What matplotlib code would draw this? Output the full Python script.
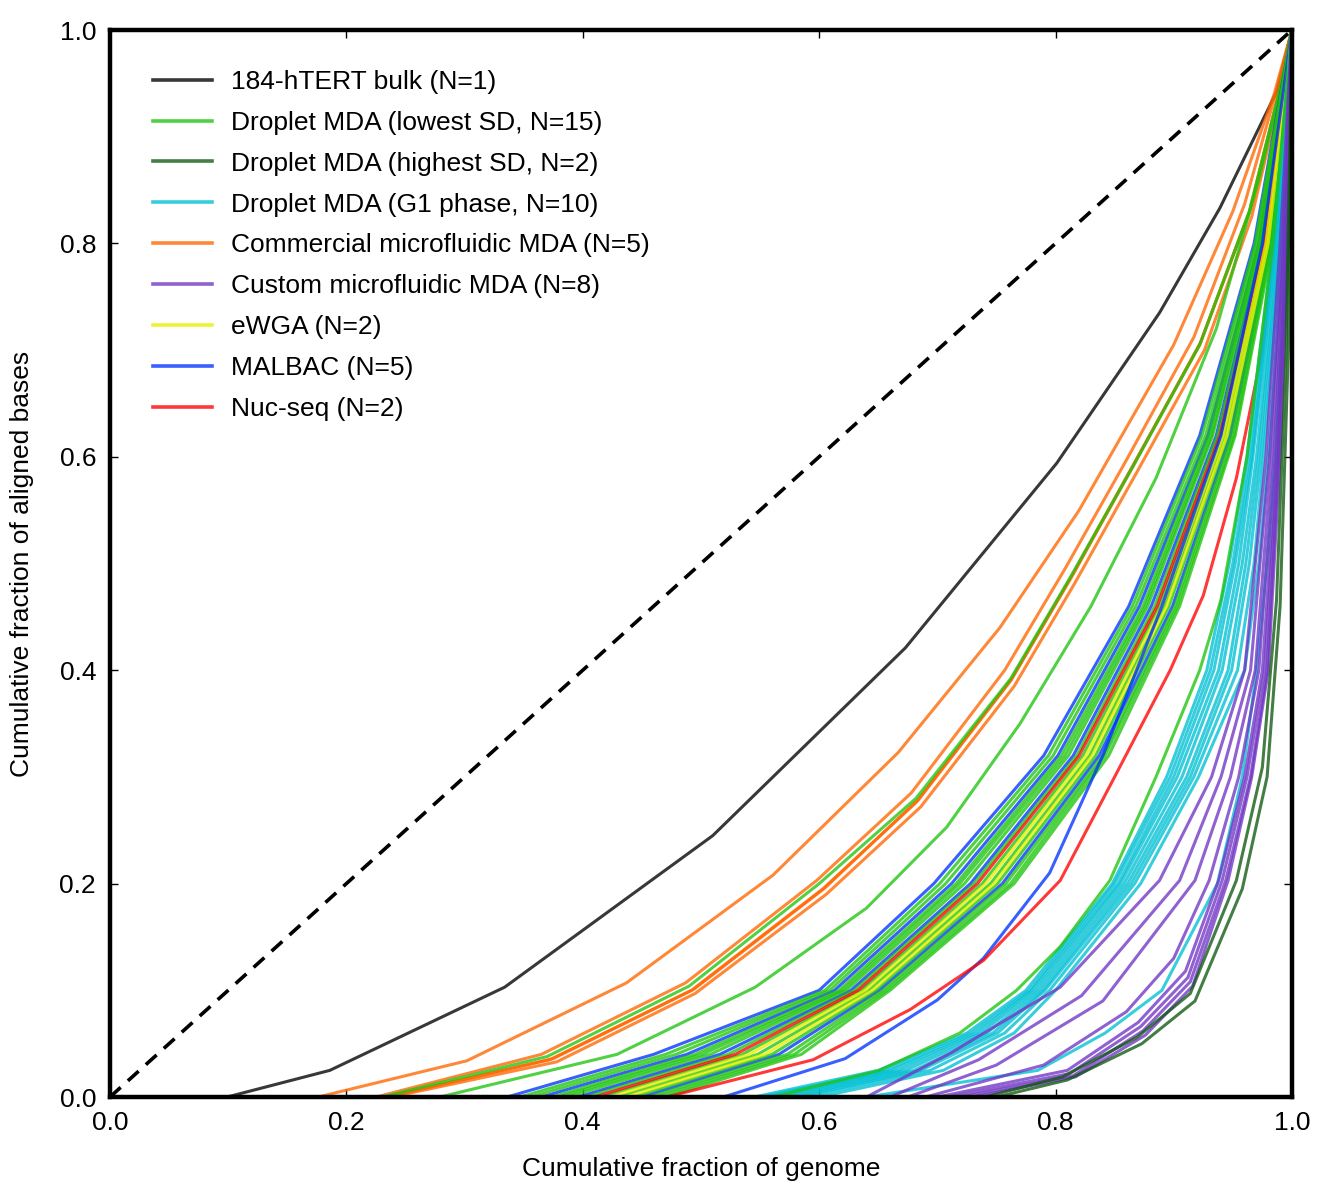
import matplotlib
matplotlib.use('Agg')
from matplotlib import pyplot as plt

plt.rcParams['font.family'] = ['Liberation Sans', 'DejaVu Sans']

# Lorenz curves: (cumulative fraction of genome, cumulative fraction of aligned bases)
bulk = [(0.099, 0.0), (0.186, 0.025), (0.334, 0.103), (0.51, 0.245), (0.673, 0.421),
        (0.801, 0.594), (0.888, 0.735), (0.939, 0.833), (0.987, 0.942), (1.0, 1.0)]

commercial = [
    [(0.176, 0.0), (0.302, 0.034), (0.437, 0.107), (0.561, 0.208), (0.667, 0.323),
     (0.753, 0.44), (0.82, 0.55), (0.9, 0.705), (0.95, 0.83), (0.985, 0.94), (1.0, 1.0)],
    [(0.225, 0.0), (0.365, 0.04), (0.487, 0.107), (0.598, 0.203), (0.678, 0.285), (0.757, 0.4),
     (0.808, 0.495), (0.86, 0.597), (0.917, 0.712), (0.96, 0.837), (0.99, 0.955), (1.0, 1.0)],
    [(0.232, 0.0), (0.372, 0.035), (0.492, 0.1), (0.603, 0.195), (0.683, 0.277), (0.762, 0.39),
     (0.813, 0.487), (0.864, 0.589), (0.922, 0.705), (0.964, 0.83), (0.991, 0.95), (1.0, 1.0)],
    [(0.238, 0.0), (0.378, 0.033), (0.495, 0.097), (0.606, 0.19), (0.686, 0.272), (0.765, 0.385),
     (0.816, 0.481), (0.868, 0.584), (0.926, 0.7), (0.966, 0.825), (0.992, 0.947), (1.0, 1.0)],
    [(0.235, 0.0), (0.375, 0.036), (0.494, 0.101), (0.605, 0.196), (0.684, 0.279), (0.763, 0.392),
     (0.815, 0.49), (0.866, 0.592), (0.923, 0.708), (0.965, 0.832), (0.991, 0.95), (1.0, 1.0)],
]

# curves in the main band share these y levels
band_levels = [0.0, 0.04, 0.1, 0.2, 0.32, 0.46, 0.62, 0.8, 1.0]
lowest_sd_band = [
    [0.347, 0.47, 0.605, 0.702, 0.794, 0.865, 0.924, 0.969, 1.0],
    [0.356, 0.479, 0.609, 0.707, 0.798, 0.868, 0.927, 0.97, 1.0],
    [0.374, 0.495, 0.617, 0.716, 0.805, 0.874, 0.93, 0.972, 1.0],
    [0.38, 0.501, 0.62, 0.719, 0.808, 0.876, 0.932, 0.973, 1.0],
    [0.387, 0.508, 0.623, 0.723, 0.811, 0.878, 0.933, 0.974, 1.0],
    [0.403, 0.523, 0.63, 0.731, 0.818, 0.884, 0.937, 0.976, 1.0],
    [0.416, 0.535, 0.636, 0.738, 0.823, 0.888, 0.94, 0.978, 1.0],
    [0.43, 0.548, 0.642, 0.745, 0.829, 0.892, 0.943, 0.979, 1.0],
    [0.443, 0.56, 0.648, 0.751, 0.834, 0.896, 0.946, 0.981, 1.0],
    [0.456, 0.573, 0.654, 0.758, 0.84, 0.901, 0.949, 0.982, 1.0],
    [0.463, 0.579, 0.657, 0.762, 0.842, 0.903, 0.951, 0.983, 1.0],
    [0.47, 0.585, 0.66, 0.765, 0.845, 0.905, 0.952, 0.984, 1.0],
]
malbac_band = [
    [0.336, 0.46, 0.6, 0.697, 0.79, 0.862, 0.922, 0.968, 1.0],
    [0.365, 0.488, 0.613, 0.712, 0.802, 0.871, 0.929, 0.972, 1.0],
    [0.396, 0.516, 0.627, 0.728, 0.815, 0.881, 0.936, 0.975, 1.0],
    [0.45, 0.566, 0.651, 0.755, 0.837, 0.899, 0.948, 0.982, 1.0],
]
ewga_band = [
    [0.423, 0.541, 0.639, 0.741, 0.826, 0.89, 0.942, 0.978, 1.0],
    [0.436, 0.554, 0.645, 0.748, 0.831, 0.894, 0.945, 0.98, 1.0],
]
nucseq_band = [
    [0.41, 0.529, 0.633, 0.734, 0.82, 0.886, 0.939, 0.977, 1.0],
]

lowest_sd_other = [
    [(0.23, 0.0), (0.37, 0.038), (0.49, 0.104), (0.6, 0.2), (0.682, 0.28), (0.762, 0.392),
     (0.813, 0.488), (0.865, 0.59), (0.922, 0.705), (0.964, 0.83), (0.991, 0.95), (1.0, 1.0)],
    [(0.279, 0.0), (0.429, 0.04), (0.546, 0.103), (0.64, 0.177), (0.708, 0.253), (0.77, 0.35),
     (0.83, 0.46), (0.885, 0.58), (0.936, 0.72), (0.972, 0.86), (0.994, 0.96), (1.0, 1.0)],
    [(0.561, 0.0), (0.651, 0.025), (0.719, 0.06), (0.767, 0.1), (0.804, 0.141), (0.846, 0.203),
     (0.885, 0.3), (0.922, 0.4), (0.94, 0.466), (0.962, 0.6), (0.984, 0.8), (1.0, 1.0)],
]
malbac_other = [
    [(0.519, 0.0), (0.622, 0.036), (0.7, 0.091), (0.739, 0.13), (0.795, 0.21), (0.84, 0.32),
     (0.89, 0.46), (0.94, 0.62), (0.975, 0.8), (1.0, 1.0)],
]
nucseq_other = [
    [(0.471, 0.0), (0.595, 0.035), (0.677, 0.082), (0.739, 0.128), (0.804, 0.203), (0.85, 0.3),
     (0.897, 0.4), (0.925, 0.47), (0.953, 0.58), (0.975, 0.7), (0.99, 0.85), (1.0, 1.0)],
]

# G1 phase curves share these y levels
g1_levels = [0.0, 0.025, 0.06, 0.1, 0.2, 0.3, 0.4, 0.5, 0.6, 0.8, 1.0]
g1_phase = [
    [0.545, 0.65, 0.725, 0.775, 0.848, 0.894, 0.928, 0.947, 0.962, 0.984, 1.0],
    [0.551, 0.656, 0.729, 0.778, 0.85, 0.897, 0.931, 0.95, 0.964, 0.985, 1.0],
    [0.556, 0.661, 0.733, 0.78, 0.853, 0.9, 0.934, 0.952, 0.966, 0.986, 1.0],
    [0.562, 0.667, 0.737, 0.783, 0.855, 0.903, 0.938, 0.955, 0.967, 0.987, 1.0],
    [0.568, 0.673, 0.742, 0.786, 0.858, 0.907, 0.941, 0.958, 0.97, 0.988, 1.0],
    [0.575, 0.68, 0.747, 0.789, 0.861, 0.911, 0.946, 0.961, 0.972, 0.989, 1.0],
    [0.581, 0.686, 0.751, 0.791, 0.864, 0.914, 0.949, 0.964, 0.974, 0.99, 1.0],
    [0.589, 0.694, 0.757, 0.795, 0.867, 0.917, 0.954, 0.968, 0.976, 0.991, 1.0],
    [0.6, 0.705, 0.765, 0.8, 0.872, 0.921, 0.96, 0.972, 0.98, 0.993, 1.0],
    [0.64, 0.785, 0.842, 0.89, 0.937, 0.958, 0.97, 0.979, 0.986, 0.995, 1.0],
]

custom = [
    [(0.64, 0.0), (0.711, 0.041), (0.804, 0.103), (0.888, 0.203), (0.932, 0.3), (0.96, 0.4), (0.978, 0.6), (0.99, 0.8), (1.0, 1.0)],
    [(0.66, 0.0), (0.735, 0.035), (0.822, 0.095), (0.905, 0.203), (0.94, 0.3), (0.965, 0.4), (0.981, 0.6), (0.992, 0.8), (1.0, 1.0)],
    [(0.675, 0.0), (0.75, 0.03), (0.84, 0.09), (0.918, 0.203), (0.948, 0.3), (0.969, 0.4), (0.983, 0.6), (0.993, 0.8), (1.0, 1.0)],
    [(0.69, 0.0), (0.79, 0.03), (0.86, 0.08), (0.9, 0.13), (0.93, 0.203), (0.955, 0.3), (0.972, 0.4), (0.985, 0.6), (0.994, 0.8), (1.0, 1.0)],
    [(0.7, 0.0), (0.81, 0.025), (0.87, 0.07), (0.91, 0.118), (0.938, 0.203), (0.96, 0.3), (0.975, 0.4), (0.987, 0.6), (0.995, 0.8), (1.0, 1.0)],
    [(0.71, 0.0), (0.812, 0.022), (0.872, 0.066), (0.912, 0.112), (0.941, 0.203), (0.962, 0.3), (0.977, 0.4), (0.988, 0.6), (0.996, 0.8), (1.0, 1.0)],
    [(0.72, 0.0), (0.815, 0.02), (0.874, 0.062), (0.914, 0.108), (0.944, 0.203), (0.965, 0.3), (0.979, 0.4), (0.989, 0.6), (0.996, 0.8), (1.0, 1.0)],
    [(0.73, 0.0), (0.817, 0.019), (0.876, 0.058), (0.916, 0.104), (0.946, 0.203), (0.966, 0.3), (0.98, 0.4), (0.99, 0.6), (0.997, 0.8), (1.0, 1.0)],
]

highest_sd = [
    [(0.74, 0.0), (0.806, 0.019), (0.869, 0.056), (0.914, 0.097), (0.953, 0.203), (0.975, 0.309),
     (0.987, 0.466), (0.995, 0.7), (1.0, 1.0)],
    [(0.75, 0.0), (0.81, 0.016), (0.873, 0.05), (0.918, 0.09), (0.958, 0.195), (0.979, 0.3),
     (0.99, 0.46), (0.997, 0.7), (1.0, 1.0)],
]

labels = ['184-hTERT bulk (N=1)', 'Droplet MDA (lowest SD, N=15)', 'Droplet MDA (highest SD, N=2)',
          'Droplet MDA (G1 phase, N=10)', 'Commercial microfluidic MDA (N=5)',
          'Custom microfluidic MDA (N=8)', 'eWGA (N=2)', 'MALBAC (N=5)', 'Nuc-seq (N=2)']
colors = ['#000000', '#1fc40f', '#0f5a0f', '#00c0d4', '#ff6600', '#7035c4', '#eaee00', '#0033ff', '#ff0000']
LW = 2.2
ALPHA = 0.78

fig = plt.figure(figsize=(13.23, 11.86), dpi=100)
ax = fig.add_axes([0.0831, 0.0750, 0.8934, 0.8997])

ax.plot([0, 1], [0, 1], color='black', lw=2.6, dashes=(4, 2.7), zorder=5)


def draw_points(curves, color):
    for c in curves:
        xs = [p[0] for p in c]
        ys = [p[1] for p in c]
        ax.plot(xs, ys, color=color, lw=LW, alpha=ALPHA)


def draw_levels(curves, levels, color):
    for xs in curves:
        ax.plot(xs, levels, color=color, lw=LW, alpha=ALPHA)


draw_points([bulk], colors[0])
draw_points(commercial, colors[4])
draw_points(lowest_sd_other[:2], colors[1])
draw_levels(malbac_band, band_levels, colors[7])
draw_levels(lowest_sd_band, band_levels, colors[1])
draw_levels(nucseq_band, band_levels, colors[8])
draw_levels(ewga_band, band_levels, colors[6])
draw_points(malbac_other, colors[7])
draw_points(nucseq_other, colors[8])
draw_levels(g1_phase, g1_levels, colors[3])
draw_points(lowest_sd_other[2:], colors[1])
draw_points(custom, colors[5])
draw_points(highest_sd, colors[2])

handles = [plt.Line2D([], [], color=c, lw=LW + 0.4, alpha=ALPHA) for c in colors]
ax.legend(handles, labels, loc='upper left', bbox_to_anchor=(0.0364, 0.9626), frameon=False,
          fontsize=19, handlelength=2.25, handletextpad=0.7, labelspacing=0.64,
          borderpad=0, borderaxespad=0)

ax.set_xlim(0, 1)
ax.set_ylim(0, 1)
ticks = [0.0, 0.2, 0.4, 0.6, 0.8, 1.0]
ax.set_xticks(ticks)
ax.set_yticks(ticks)
ax.set_xticklabels(['%.1f' % t for t in ticks])
ax.set_yticklabels(['%.1f' % t for t in ticks])
ax.tick_params(direction='in', length=6, width=1, top=True, right=True, labelsize=19, pad=10)
for s in ax.spines.values():
    s.set_linewidth(3.2)
    s.set_zorder(10)

ax.set_xlabel('Cumulative fraction of genome', fontsize=19, labelpad=16)
ax.set_ylabel('Cumulative fraction of aligned bases', fontsize=19, labelpad=18)

fig.savefig('out.png', dpi=100)
plt.close(fig)
